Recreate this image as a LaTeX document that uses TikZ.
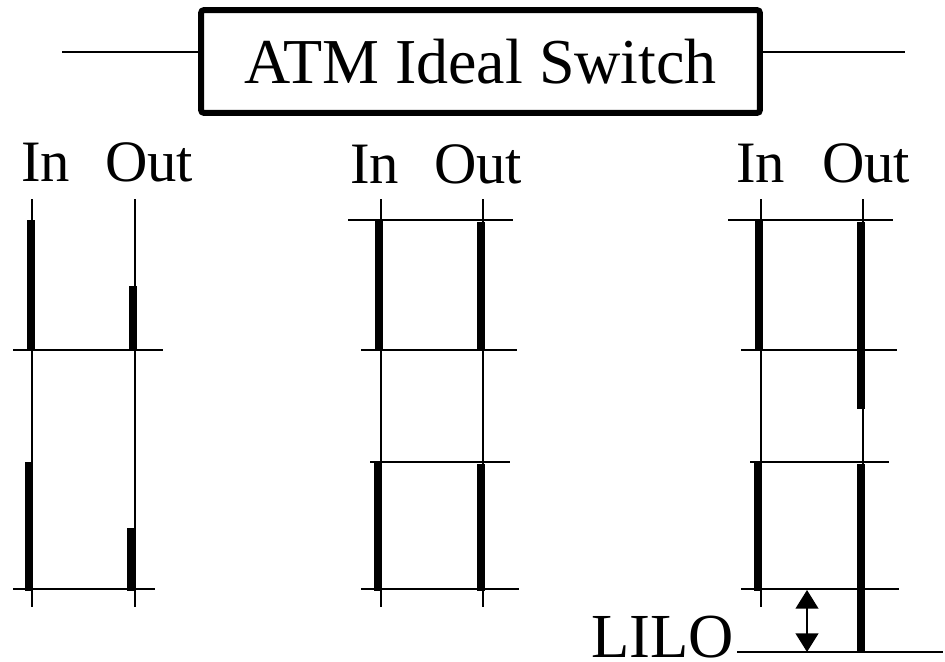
\documentclass[tikz,border=0pt]{standalone}
\usepackage{fontspec}
\setmainfont{Liberation Serif}
\usetikzlibrary{arrows.meta}

\tikzset{
  thinline/.style={line width=1.7pt},
  cellbar/.style={line width=6pt, line cap=butt},
  portlabel/.style={font=\fontsize{44}{44}\selectfont, inner sep=0pt, anchor=base west},
}

\begin{document}
\begin{tikzpicture}[x=0.75pt, y=-0.75pt]
  \useasboundingbox (0,0) rectangle (945,661);
  % switch box with its two leads
  \node[draw, line width=4.5pt, rounded corners=2pt, inner sep=0pt,
        minimum width=419pt, minimum height=77pt,
        font=\fontsize{48}{48}\selectfont] (switch) at (480.5,61.5) {ATM Ideal Switch};
  \coordinate (leadL) at (62,52);
  \coordinate (leadR) at (905,52);
  \draw[thinline] (leadL) -- (leadL -| switch.west);
  \draw[thinline] (switch.east |- leadR) -- (leadR);
  % port labels
  \node[portlabel] (in1) at (21,181) {In};
  \node[portlabel] (out1) at (105,181) {Out};
  \node[portlabel] (in2) at (350,183) {In};
  \node[portlabel] (out2) at (434,183) {Out};
  \node[portlabel] (in3) at (736,182) {In};
  \node[portlabel] (out3) at (822,182) {Out};
  % time axes
  \foreach \x/\e in {32/607, 135/607, 381/607, 483/607, 761/607, 863/652}
    \draw[thinline] (\x,199) -- (\x,\e);
  % slot boundaries
  \foreach \y/\a/\b in {350/13/163, 589/13/155,
                        220/348/513, 350/361/517, 462/370/510, 589/361/519,
                        220/728/893, 350/741/897, 462/750/889, 589/741/899}
    \draw[thinline] (\a,\y) -- (\b,\y);
  % cells
  \foreach \x/\a/\b in {31/220/350, 133/286/350, 29/462/591, 131/528/591,
                        379/220/350, 481/222/350, 377.5/462/591, 481/464/591,
                        759/220/350, 861/222/409, 757.5/462/591, 861/464/652}
    \draw[cellbar] (\x,\a) -- (\x,\b);
  % LILO delay
  \node[font=\fontsize{47}{47}\selectfont, inner sep=0pt, anchor=base west] (lilo) at (591,657) {LILO};
  \coordinate (liloR) at (943,652);
  \draw[thinline] (lilo.east |- liloR) ++(3,0) -- (liloR);
  \coordinate (slotA) at (807,590);
  \coordinate (slotB) at (807,652);
  \draw[thinline, {Triangle[width=17pt,length=14pt]}-{Triangle[width=17pt,length=14pt]}] (slotA) -- (slotB);
\end{tikzpicture}
\end{document}
